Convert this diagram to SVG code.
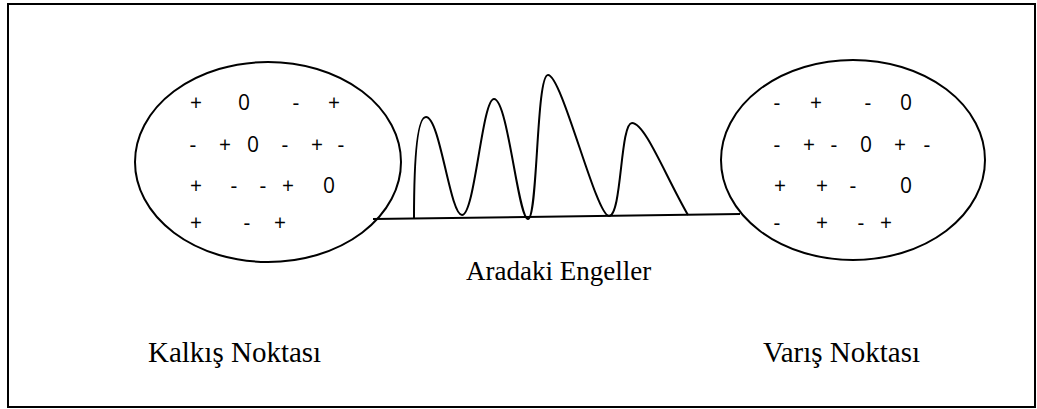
<svg xmlns="http://www.w3.org/2000/svg" width="1037" height="409" viewBox="0 0 1037 409">
<style>
.frame{fill:#fff;stroke:#000;stroke-width:2}
.ell{fill:none;stroke:#000;stroke-width:2}
.ln{fill:none;stroke:#000;stroke-width:2}
.s{font-family:"Open Sans","Liberation Sans",sans-serif;font-size:21px;fill:#000;text-anchor:middle}
.lbl{font-family:"Liberation Serif","Times New Roman",serif;font-size:29px;fill:#000}
.mid{font-size:27px}
</style>
<rect class="frame" x="8" y="4" width="1027" height="403"/>
<g id="connectors">
<path class="ln" d="M373 219 L740 214"/>
<path id="obstacles" class="ln" d="M414 219 C414 170 416 117 426 117 C440 117 450 215 462 215 C475 215 482 99 494 99 C508 99 518 219 528 219 C538 219 536 75 548 75 C562 75 596 216 609 216 C622 216 620 123 632 123 C645 123 665 175 688 215"/>
</g>
<g id="kalkis">
<ellipse class="ell" cx="268" cy="162" rx="133" ry="100"/>
<text class="s" x="196" y="110">+</text><text class="s" x="244" y="110">0</text><text class="s" x="296" y="110">-</text><text class="s" x="334" y="110">+</text>
<text class="s" x="193" y="152">-</text><text class="s" x="225" y="152">+</text><text class="s" x="253" y="152">0</text><text class="s" x="285" y="152">-</text><text class="s" x="317" y="152">+</text><text class="s" x="341" y="152">-</text>
<text class="s" x="196" y="193">+</text><text class="s" x="234" y="193">-</text><text class="s" x="263" y="193">-</text><text class="s" x="288" y="193">+</text><text class="s" x="329" y="193">0</text>
<text class="s" x="196" y="230">+</text><text class="s" x="247" y="230">-</text><text class="s" x="280" y="230">+</text>
<text class="lbl" x="148" y="362">Kalkış Noktası</text>
</g>
<g id="varis">
<ellipse class="ell" cx="853" cy="160" rx="132" ry="100"/>
<text class="s" x="777" y="110">-</text><text class="s" x="816" y="110">+</text><text class="s" x="868" y="110">-</text><text class="s" x="906" y="110">0</text>
<text class="s" x="777" y="152">-</text><text class="s" x="809" y="152">+</text><text class="s" x="834" y="152">-</text><text class="s" x="866" y="152">0</text><text class="s" x="900" y="152">+</text><text class="s" x="927" y="152">-</text>
<text class="s" x="780" y="193">+</text><text class="s" x="822" y="193">+</text><text class="s" x="853" y="193">-</text><text class="s" x="906" y="193">0</text>
<text class="s" x="777" y="230">-</text><text class="s" x="822" y="230">+</text><text class="s" x="861" y="230">-</text><text class="s" x="886" y="230">+</text>
<text class="lbl" x="763" y="362">Varış Noktası</text>
</g>
<g id="engeller">
<text class="lbl mid" x="466" y="280">Aradaki Engeller</text>
</g>
</svg>
